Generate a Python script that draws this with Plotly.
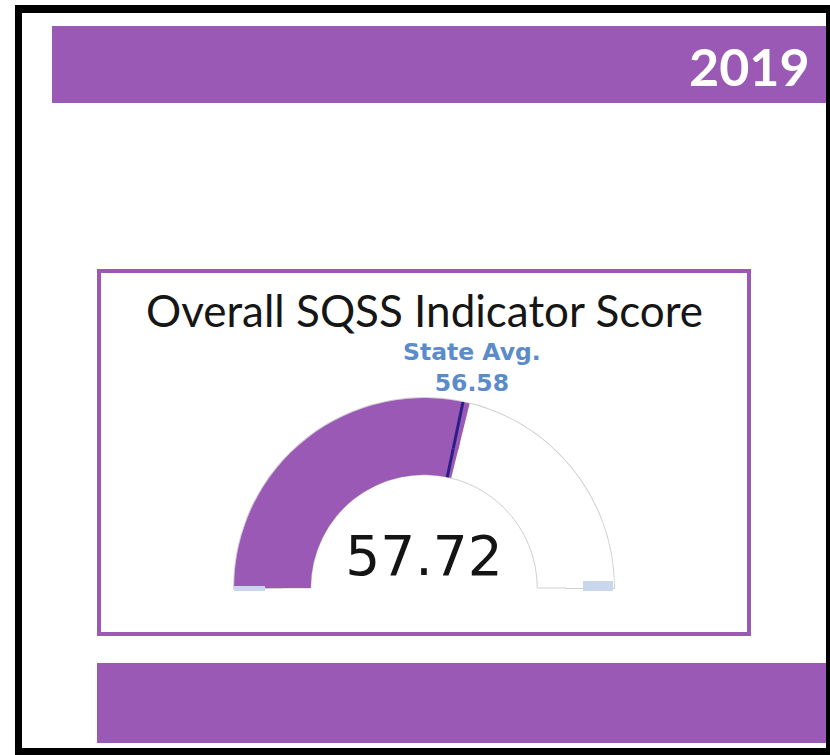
import plotly.graph_objects as go

# ---- data ----
year_label = ["2019"]
indicator_titles = ["Overall SQSS Indicator Score"]
scores = [57.72]
state_avgs = [56.58]
gauge_range = [0, 100]
avg_label = ["State Avg."]

W, H = 830, 755
PURPLE = "#9b59b6"
NAVY = "#2a1f86"
GREY = "#cfcfcf"
CLEAR = "rgba(0,0,0,0)"


def px(x):
    return x / W


def py(y):
    return 1 - y / H


cx, cy = 424, 588          # gauge centre (pixels)
R_OUT = 190
R_IN = 151


def dom(r):
    return dict(x=[px(cx - r), px(cx + r)], y=[py(cy), py(cy - r)])


def gauge(bg, border_w, bar_color, with_threshold):
    g = dict(
        shape="angular",
        axis=dict(range=gauge_range, visible=False),
        bar=dict(color=bar_color, thickness=1 if bar_color != CLEAR else 0),
        bgcolor=bg,
        borderwidth=border_w,
        bordercolor=GREY,
    )
    if with_threshold:
        g["threshold"] = dict(line=dict(color=NAVY, width=3), thickness=1, value=state_avgs[0])
    return g


fig = go.Figure()
# background rings / outlines
fig.add_trace(go.Indicator(mode="gauge", value=scores[0], domain=dom(R_OUT),
                           gauge=gauge("white", 2, CLEAR, False)))
fig.add_trace(go.Indicator(mode="gauge", value=scores[0], domain=dom(R_IN),
                           gauge=gauge("white", 1, CLEAR, False)))
fig.add_trace(go.Indicator(mode="gauge", value=scores[0], domain=dom(R_OUT),
                           gauge=gauge("white", 0, CLEAR, False)))
# value bars
fig.add_trace(go.Indicator(mode="gauge", value=scores[0], domain=dom(R_IN),
                           gauge=gauge(CLEAR, 0, PURPLE, True)))
fig.add_trace(go.Indicator(
    mode="gauge+number", value=scores[0], domain=dom(R_OUT), gauge=gauge(CLEAR, 0, PURPLE, True),
    number=dict(font=dict(family="DejaVu Sans", size=55, color="#141414"), valueformat=".2f"),
))

shapes = []


def rect(x0, y0, x1, y1, fill, layer="below"):
    shapes.append(dict(type="rect", xref="paper", yref="paper",
                       x0=px(x0), x1=px(x1), y0=py(y1), y1=py(y0),
                       fillcolor=fill, line=dict(width=0), layer=layer))


# header bar
rect(52, 26, 830, 103, PURPLE)
# card border
shapes.append(dict(type="rect", xref="paper", yref="paper",
                   x0=px(99), x1=px(749), y0=py(634), y1=py(271),
                   fillcolor=CLEAR, line=dict(color=PURPLE, width=4), layer="below"))
# bottom bar
rect(97, 663, 830, 743, PURPLE)
# outer black frame
rect(15, 5, 22, 755, "black")
rect(15, 5, 830, 13, "black")
rect(15, 748, 830, 755, "black")
rect(826, 5, 830, 755, "black")

# little min/max tabs
tab = "#cad6ec"
rect(234, 586, 265, 591, tab, "above")
rect(583, 581, 613, 591, tab, "above")

annotations = [
    dict(text="<b>" + year_label[0] + "</b>", x=px(812), y=py(66), xref="paper", yref="paper",
         xanchor="right", yanchor="middle", showarrow=False,
         font=dict(family="Lato", size=52, color="white")),
    dict(text=indicator_titles[0], x=px(424), y=py(310), xref="paper", yref="paper",
         xanchor="center", yanchor="middle", showarrow=False,
         font=dict(family="Lato", size=44, color="#161616")),
    dict(text="<b>" + avg_label[0] + "</b><br><b>" + f"{state_avgs[0]:.2f}" + "</b>",
         x=px(472), y=py(368), xref="paper", yref="paper",
         xanchor="center", yanchor="middle", showarrow=False,
         font=dict(family="DejaVu Sans", size=23.5, color="#5b8bc9")),
]

fig.update_layout(
    width=W, height=H,
    margin=dict(l=0, r=0, t=0, b=0),
    paper_bgcolor="white",
    plot_bgcolor="white",
    shapes=shapes,
    annotations=annotations,
    showlegend=False,
)

fig.write_html("out.html", config={"displayModeBar": False},
               post_script="document.body.style.margin='0';")
